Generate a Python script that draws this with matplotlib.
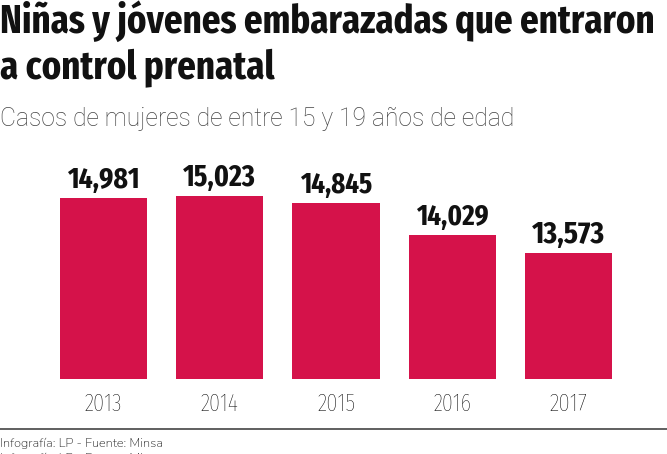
import matplotlib
matplotlib.use("Agg")
import matplotlib.pyplot as plt

years = ["2013", "2014", "2015", "2016", "2017"]
values = [14981, 15023, 14845, 14029, 13573]
labels = ["14,981", "15,023", "14,845", "14,029", "13,573"]

title1 = "Niñas y jóvenes embarazadas que entraron"
title2 = "a control prenatal"
subtitle = "Casos de mujeres de entre 15 y 19 años de edad"
source = "Infografía: LP - Fuente: Minsa"

COND = ["Fira Sans Extra Condensed", "DejaVu Sans"]
SUB_FONT = ["Roboto", "DejaVu Sans"]
SRC_FONT = ["Nunito", "DejaVu Sans"]

W, H = 667, 454
fig = plt.figure(figsize=(W / 100, H / 100), dpi=100)
renderer = fig.canvas.get_renderer()

def fit(t, target):
    w = t.get_window_extent(renderer=renderer).width
    t.set_fontsize(t.get_fontsize() * target / w)
    return t

ax = fig.add_axes([0, (H - 379) / H, 1, 229 / H])
x = list(range(len(years)))
ax.bar(x, values, width=0.75, color="#D5124A")
ax.set_xlim(-103.5 / 116.25, (W - 103.5) / 116.25)
ax.set_ylim(10367, 10367 + 229 / 0.0393)
for s in ax.spines.values():
    s.set_visible(False)
ax.set_yticks([])
ax.set_xticks([])

for xi, v, lab, yr in zip(x, values, labels, years):
    a = ax.annotate(lab, (xi, v), xytext=(0, 7), textcoords="offset points",
                    ha="center", va="baseline", fontfamily=COND, fontweight="bold",
                    fontsize=24, color="#111111")
    fit(a, 73)
    t = ax.annotate(yr, (xi, 0), xycoords=ax.get_xaxis_transform(), xytext=(0, -23.0),
                    textcoords="offset points", ha="center", va="baseline",
                    fontfamily=COND, fontweight="light", fontsize=19, color="#000000")
    fit(t, 38)

t1 = fit(fig.text(0, 1 - 33 / H, title1, fontfamily=COND, fontweight="bold",
                  fontsize=31, color="#111111", ha="left", va="baseline"), 655)
fig.text(0, 1 - 78 / H, title2, fontfamily=COND, fontweight="bold",
         fontsize=t1.get_fontsize(), color="#111111", ha="left", va="baseline")
fit(fig.text(0, 1 - 126 / H, subtitle, fontfamily=SUB_FONT, fontweight="light",
             fontsize=17, color="#444444", ha="left", va="baseline"), 513)

fig.add_artist(plt.Line2D([0, 1], [1 - 429 / H, 1 - 429 / H], color="#444444", lw=1.2))
fit(fig.text(0, 1 - 447 / H, source, fontfamily=SRC_FONT,
             fontsize=11, color="#222222", ha="left", va="baseline"), 163)
fit(fig.text(0, 1 - 462 / H, source, fontfamily=SRC_FONT,
             fontsize=11, color="#222222", ha="left", va="baseline"), 163)

fig.savefig("out.png", dpi=100)
